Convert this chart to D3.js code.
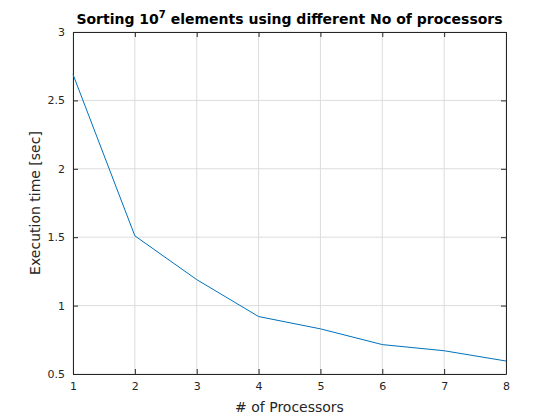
<!DOCTYPE html>
<html>
<head>
<meta charset="UTF-8">
<script src="https://d3js.org/d3.v7.min.js"></script>
<style>
  body { margin: 0; background: #fff; font-family: 'DejaVu Sans', sans-serif; }
</style>
</head>
<body>
<div id="chart"></div>
<script>
const processors = [1, 2, 3, 4, 5, 6, 7, 8];
const execTime = [2.69, 1.51, 1.19, 0.92, 0.83, 0.715, 0.67, 0.595];
const yTicks = [0.5, 1, 1.5, 2, 2.5, 3];
const yTickLabels = ["0.5", "1", "1.5", "2", "2.5", "3"];

const W = 560, H = 420;
const plotL = 73, plotR = 506, plotT = 32, plotB = 374;

const svg = d3.select("#chart").append("svg").attr("width", W).attr("height", H);

const x = d3.scaleLinear().domain([1, 8]).range([plotL, plotR]);
const y = d3.scaleLinear().domain([0.5, 3]).range([plotB, plotT]);

// grid
const grid = svg.append("g").attr("stroke", "#dcdcdc").attr("stroke-width", 1);
processors.forEach(p => grid.append("line").attr("x1", x(p)).attr("x2", x(p)).attr("y1", plotT).attr("y2", plotB));
yTicks.forEach(t => grid.append("line").attr("x1", plotL).attr("x2", plotR).attr("y1", y(t)).attr("y2", y(t)));

// axes
svg.append("g").attr("transform", `translate(0,${plotB})`)
  .call(d3.axisBottom(x).tickValues(processors).tickFormat(d3.format("d")).tickSizeInner(-5).tickSizeOuter(0).tickPadding(8));
svg.append("g").attr("transform", `translate(${plotL},0)`)
  .call(d3.axisLeft(y).tickValues(yTicks).tickFormat((d, i) => yTickLabels[i]).tickSizeInner(-5).tickSizeOuter(0).tickPadding(8));
svg.append("g").attr("transform", `translate(0,${plotT})`)
  .call(d3.axisTop(x).tickValues(processors).tickFormat("").tickSizeInner(-5).tickSizeOuter(0));
svg.append("g").attr("transform", `translate(${plotR},0)`)
  .call(d3.axisRight(y).tickValues(yTicks).tickFormat("").tickSizeInner(-5).tickSizeOuter(0));
svg.selectAll(".domain, .tick line").attr("stroke", "#262626");
svg.selectAll(".tick text").attr("fill", "#262626").attr("font-size", 11).attr("font-family", "DejaVu Sans, sans-serif");

// line
svg.append("path").datum(processors.map((p, i) => [p, execTime[i]]))
  .attr("fill", "none").attr("stroke", "#0072bd").attr("stroke-width", 1)
  .attr("d", d3.line().x(d => x(d[0])).y(d => y(d[1])));

// labels
svg.append("text").attr("x", (plotL + plotR) / 2).attr("y", 412).attr("text-anchor", "middle")
  .attr("font-size", 14).attr("fill", "#262626").text("# of Processors");
svg.append("text").attr("transform", `translate(40,${(plotT + plotB) / 2}) rotate(-90)`).attr("text-anchor", "middle")
  .attr("font-size", 14).attr("fill", "#262626").text("Execution time [sec]");
const title = svg.append("text").attr("x", (plotL + plotR) / 2).attr("y", 24).attr("text-anchor", "middle")
  .attr("font-size", 14).attr("font-weight", "bold").attr("fill", "#000");
title.append("tspan").text("Sorting 10");
title.append("tspan").attr("dy", -6).attr("font-size", 10).text("7");
title.append("tspan").attr("dy", 6).text(" elements using different No of processors");
</script>
</body>
</html>
